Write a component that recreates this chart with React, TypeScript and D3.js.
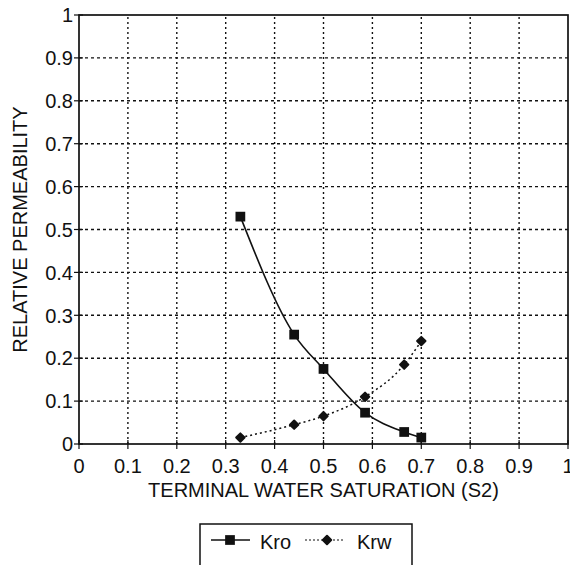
import React, { useEffect, useRef } from 'react';
import * as d3 from 'd3';

// Terminal water saturation (S2) at each measured point
const saturation = [0.33, 0.44, 0.5, 0.585, 0.665, 0.7];
// Oil relative permeability
const kroValues = [0.53, 0.255, 0.175, 0.073, 0.028, 0.015];
// Water relative permeability
const krwValues = [0.015, 0.045, 0.065, 0.11, 0.185, 0.24];

const xTickValues = [0, 0.1, 0.2, 0.3, 0.4, 0.5, 0.6, 0.7, 0.8, 0.9, 1];
const yTickValues = [0, 0.1, 0.2, 0.3, 0.4, 0.5, 0.6, 0.7, 0.8, 0.9, 1];
const xTickLabels = ['0', '0.1', '0.2', '0.3', '0.4', '0.5', '0.6', '0.7', '0.8', '0.9', '1'];
const yTickLabels = ['0', '0.1', '0.2', '0.3', '0.4', '0.5', '0.6', '0.7', '0.8', '0.9', '1'];

const seriesNames = ['Kro', 'Krw'];

const WIDTH = 570;
const HEIGHT = 565;
const FONT = '"Liberation Sans", Arial, Helvetica, sans-serif';
const INK = '#111';

const App: React.FC = () => {
  const svgRef = useRef<SVGSVGElement>(null);

  useEffect(() => {
    if (!svgRef.current) return;
    const svg = d3.select(svgRef.current);
    svg.selectAll('*').remove();

    const margin = { top: 15, right: 2, bottom: 121, left: 79 };
    const x = d3.scaleLinear().domain([0, 1]).range([margin.left, WIDTH - margin.right]);
    const y = d3.scaleLinear().domain([0, 1]).range([HEIGHT - margin.bottom, margin.top]);

    // dotted grid
    const grid = svg.append('g');
    xTickValues.filter(v => v > 0 && v < 1).forEach(v => {
      grid.append('line')
        .attr('x1', x(v)).attr('x2', x(v))
        .attr('y1', y(0)).attr('y2', y(1))
        .attr('stroke', INK).attr('stroke-width', 1.4)
        .attr('stroke-dasharray', '2,3');
    });
    yTickValues.filter(v => v > 0 && v < 1).forEach(v => {
      grid.append('line')
        .attr('x1', x(0)).attr('x2', x(1))
        .attr('y1', y(v)).attr('y2', y(v))
        .attr('stroke', INK).attr('stroke-width', 1.4)
        .attr('stroke-dasharray', '3,3');
    });

    // frame
    svg.append('rect')
      .attr('x', x(0)).attr('y', y(1))
      .attr('width', x(1) - x(0)).attr('height', y(0) - y(1))
      .attr('fill', 'none').attr('stroke', INK).attr('stroke-width', 1.7);

    // x axis ticks and labels
    const xAxis = svg.append('g');
    xTickValues.forEach((v, i) => {
      xAxis.append('line')
        .attr('x1', x(v)).attr('x2', x(v))
        .attr('y1', y(0) - 4).attr('y2', y(0) + 5)
        .attr('stroke', INK).attr('stroke-width', 1.2);
      xAxis.append('text')
        .attr('x', x(v)).attr('y', y(0) + 29)
        .attr('text-anchor', 'middle')
        .style('font-family', FONT).style('font-size', '20px')
        .attr('fill', INK)
        .text(xTickLabels[i]);
    });

    // y axis ticks and labels
    const yAxis = svg.append('g');
    yTickValues.forEach((v, i) => {
      yAxis.append('line')
        .attr('x1', x(0) - 5).attr('x2', x(0) + 4)
        .attr('y1', y(v)).attr('y2', y(v))
        .attr('stroke', INK).attr('stroke-width', 1.2);
      yAxis.append('text')
        .attr('x', x(0) - 6).attr('y', y(v))
        .attr('dy', '0.36em')
        .attr('text-anchor', 'end')
        .style('font-family', FONT).style('font-size', '20px')
        .attr('fill', INK)
        .text(yTickLabels[i]);
    });

    // axis titles
    svg.append('text')
      .attr('x', (x(0) + x(1)) / 2).attr('y', 497)
      .attr('text-anchor', 'middle')
      .style('font-family', FONT).style('font-size', '20px')
      .attr('fill', INK)
      .text('TERMINAL WATER SATURATION (S2)');

    svg.append('text')
      .attr('transform', `translate(27,${(y(0) + y(1)) / 2}) rotate(-90)`)
      .attr('text-anchor', 'middle')
      .style('font-family', FONT).style('font-size', '20px')
      .attr('fill', INK)
      .text('RELATIVE PERMEABILITY');

    // series
    const kroData = saturation.map((s, i) => [s, kroValues[i]] as [number, number]);
    const krwData = saturation.map((s, i) => [s, krwValues[i]] as [number, number]);

    const line = d3.line<[number, number]>()
      .x(d => x(d[0]))
      .y(d => y(d[1]))
      .curve(d3.curveMonotoneX);

    svg.append('path')
      .datum(krwData)
      .attr('d', line)
      .attr('fill', 'none')
      .attr('stroke', INK).attr('stroke-width', 1.5)
      .attr('stroke-dasharray', '2,3');

    svg.append('path')
      .datum(kroData)
      .attr('d', line)
      .attr('fill', 'none')
      .attr('stroke', INK).attr('stroke-width', 1.6);

    const square = d3.symbol().type(d3.symbolSquare).size(95);
    const diamond = d3.symbol().type(d3.symbolDiamond2).size(45);

    svg.selectAll('.kro-point')
      .data(kroData)
      .enter()
      .append('path')
      .attr('class', 'kro-point')
      .attr('transform', d => `translate(${x(d[0])},${y(d[1])})`)
      .attr('d', square)
      .attr('fill', INK);

    svg.selectAll('.krw-point')
      .data(krwData)
      .enter()
      .append('path')
      .attr('class', 'krw-point')
      .attr('transform', d => `translate(${x(d[0])},${y(d[1])})`)
      .attr('d', diamond)
      .attr('fill', INK)
      .attr('stroke', INK).attr('stroke-width', 2).attr('stroke-linejoin', 'round');

    // legend
    const legend = svg.append('g').attr('transform', 'translate(200,524)');
    legend.append('rect')
      .attr('x', 0).attr('y', 0)
      .attr('width', 212).attr('height', 60)
      .attr('fill', 'none').attr('stroke', INK).attr('stroke-width', 1.5);

    legend.append('line')
      .attr('x1', 11).attr('x2', 50).attr('y1', 16).attr('y2', 16)
      .attr('stroke', INK).attr('stroke-width', 1.6);
    legend.append('path')
      .attr('transform', 'translate(30,16)')
      .attr('d', square)
      .attr('fill', INK);
    legend.append('text')
      .attr('x', 60).attr('y', 25)
      .style('font-family', FONT).style('font-size', '20px')
      .attr('fill', INK)
      .text(seriesNames[0]);

    legend.append('line')
      .attr('x1', 105).attr('x2', 144).attr('y1', 16).attr('y2', 16)
      .attr('stroke', INK).attr('stroke-width', 1.2)
      .attr('stroke-dasharray', '2,2');
    legend.append('path')
      .attr('transform', 'translate(127,16)')
      .attr('d', diamond)
      .attr('fill', INK)
      .attr('stroke', INK).attr('stroke-width', 2).attr('stroke-linejoin', 'round');
    legend.append('text')
      .attr('x', 157).attr('y', 25)
      .style('font-family', FONT).style('font-size', '20px')
      .attr('fill', INK)
      .text(seriesNames[1]);
  }, []);

  return (
    <svg
      ref={svgRef}
      width={WIDTH}
      height={HEIGHT}
      style={{ position: 'absolute', left: 0, top: 0, background: '#fff' }}
    />
  );
};

export default App;
